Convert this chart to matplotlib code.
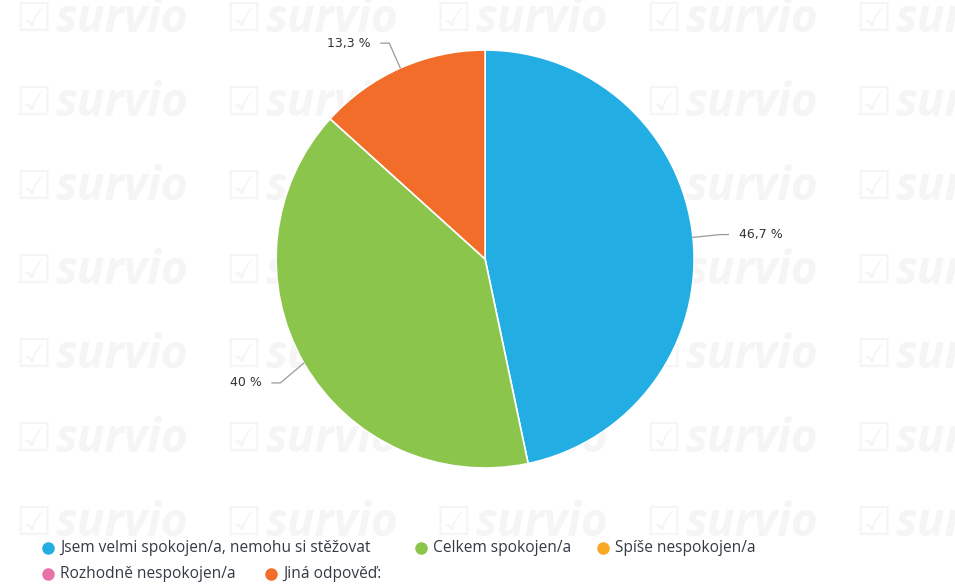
import numpy as np
import matplotlib
matplotlib.use("Agg")
import matplotlib.pyplot as plt
from matplotlib.lines import Line2D

categories = [
    "Jsem velmi spokojen/a, nemohu si stěžovat",
    "Celkem spokojen/a",
    "Spíše nespokojen/a",
    "Rozhodně nespokojen/a",
    "Jiná odpověď:",
]
values = [46.7, 40.0, 0.0, 0.0, 13.3]
value_labels = ["46,7 %", "40 %", "", "", "13,3 %"]
colors = ["#23aee3", "#8cc54c", "#f9a825", "#e873a8", "#f26d29"]

plt.rcParams["font.family"] = ["DejaVu Sans"]

W, H = 955, 585
fig = plt.figure(figsize=(W / 100, H / 100), dpi=100)
fig.patch.set_facecolor("white")

# faint watermark tiles
for row in range(7):
    for col in range(5):
        x = (15 + col * 210) / W
        y = 1 - (20 + row * 84) / H
        fig.text(x, y, "☑", fontsize=29, color="#f5f5f5", ha="left", va="center",
                 zorder=0)
        fig.text(x + 40 / W, y, "survio", fontsize=33, color="#f5f5f5",
                 fontweight="bold", fontstyle="italic", family="Open Sans",
                 ha="left", va="center", zorder=0)

ax = fig.add_axes([0.2891, 0.2, 0.4377, 0.7145])
ax.set_zorder(2)
plot_vals = [v for v in values if v > 0]
plot_cols = [c for v, c in zip(values, colors) if v > 0]
plot_labs = [l for v, l in zip(values, value_labels) if v > 0]
wedges, _ = ax.pie(plot_vals, colors=plot_cols, startangle=90, counterclock=False,
                   wedgeprops={"edgecolor": "white", "linewidth": 1.2})
ax.set_xlim(-1, 1)
ax.set_ylim(-1, 1)
ax.set_aspect("equal")

for w, lab in zip(wedges, plot_labs):
    ang = np.deg2rad((w.theta1 + w.theta2) / 2)
    cx, cy = np.cos(ang), np.sin(ang)
    ox, oy = cx * 1.13, cy * 1.13 - 0.03 * (1 if cy < 0 else 0)
    side = 1 if cx >= 0 else -1
    tx = ox + side * 0.04
    ax.plot([cx, ox, tx], [cy, oy, oy], color="#999999", lw=0.9, clip_on=False)
    ax.text(tx + side * 0.05, oy, lab, fontsize=9, color="#333333",
            ha="left" if side > 0 else "right", va="center", clip_on=False)

# legend, laid out like a flowing row
legend_pos = [(48, 548), (421, 548), (603, 548), (48, 574), (271, 574)]
for (px, py), name, col in zip(legend_pos, categories, colors):
    fx, fy = px / W, 1 - py / H
    fig.add_artist(Line2D([fx], [fy], marker="o", markersize=8, color=col,
                          linestyle="none", transform=fig.transFigure))
    fig.text(fx + 12 / W, fy, name, fontsize=11.2, color="#333a44",
             family="Open Sans", ha="left", va="center", zorder=3)

fig.savefig("out.png", dpi=100)
